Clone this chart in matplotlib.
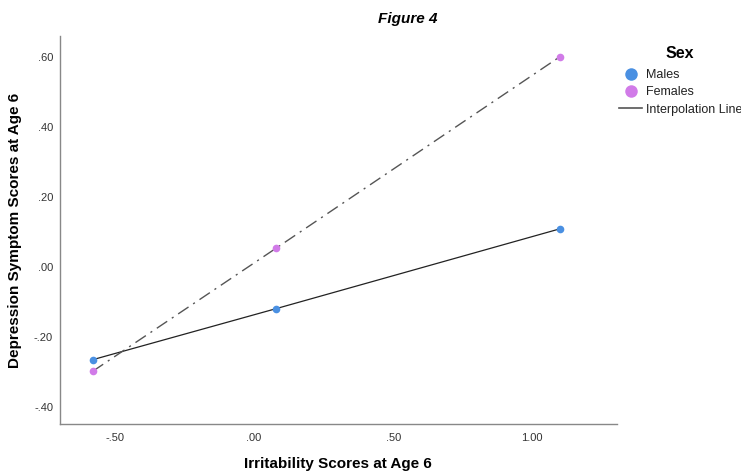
import matplotlib
matplotlib.use("Agg")
import matplotlib.pyplot as plt
from matplotlib.lines import Line2D

plt.rcParams['font.family'] = ['Liberation Sans', 'DejaVu Sans']

# irritability (x) at three levels, depression scores (y) by sex
irritability = [-0.58, 0.08, 1.10]
males = [-0.266, -0.120, 0.108]
females = [-0.299, 0.053, 0.600]

xticks = [-0.5, 0.0, 0.5, 1.0]
xtick_labels = ['-.50', '.00', '.50', '1.00']
yticks = [-0.4, -0.2, 0.0, 0.2, 0.4, 0.6]
ytick_labels = ['-.40', '-.20', '.00', '.20', '.40', '.60']

blue = '#4a90e2'
purple = '#d17be8'

fig = plt.figure(figsize=(7.41, 4.73), dpi=100)
ax = fig.add_axes([60/741, 1 - 423.7/473, (616.7-60)/741, (423.7-36)/473])

ax.plot(irritability, males, color='#222222', lw=0.9, zorder=2)
ax.plot(irritability, females, color='#555555', lw=1.0, zorder=2,
        dashes=(9, 4, 1.5, 4))
ax.plot(irritability, males, 'o', color=blue, ms=5.5, mec='none', zorder=3)
ax.plot(irritability, females, 'o', color=purple, ms=5.5, mec='none', zorder=3)

ax.set_xlim(-0.698, 1.304)
ax.set_ylim(-0.449, 0.659)
ax.set_xticks(xticks)
ax.set_xticklabels(xtick_labels)
ax.set_yticks(yticks)
ax.set_yticklabels(ytick_labels)
ax.tick_params(length=0, labelsize=8, colors='#333333')
ax.tick_params(axis='x', pad=7)
ax.tick_params(axis='y', pad=5)

for s in ['top', 'right']:
    ax.spines[s].set_visible(False)
for s in ['left', 'bottom']:
    ax.spines[s].set_color('#888888')
    ax.spines[s].set_linewidth(1.0)

fig.text(15/741, 1 - 230/473, 'Depression Symptom Scores at Age 6', rotation=90,
         ha='center', va='center', fontsize=11, fontweight='bold')
fig.text(338/741, 1 - 464/473, 'Irritability Scores at Age 6',
         ha='center', va='center', fontsize=11, fontweight='bold')
fig.text(408/741, 1 - 19/473, 'Figure 4', ha='center', va='center',
         fontsize=11, fontweight='bold', style='italic')

# legend
fig.text(680/741, 1 - 53/473, 'Sex', ha='center', va='center',
         fontsize=11.5, fontweight='bold')
handles = [Line2D([], [], ls='none', marker='o', color=blue, ms=9, mec='none'),
           Line2D([], [], ls='none', marker='o', color=purple, ms=9, mec='none'),
           Line2D([], [], color='#555555', lw=1.2)]
leg = fig.legend(handles, ['Males', 'Females', 'Interpolation Line'],
                 loc='upper left', bbox_to_anchor=(619/741, 1 - 69/473),
                 frameon=False, fontsize=9, handlelength=1.85,
                 handletextpad=0.3, labelspacing=0.42, borderaxespad=0,
                 borderpad=0)
for t in leg.get_texts():
    t.set_color('#222222')

fig.savefig('out.png', dpi=100)
